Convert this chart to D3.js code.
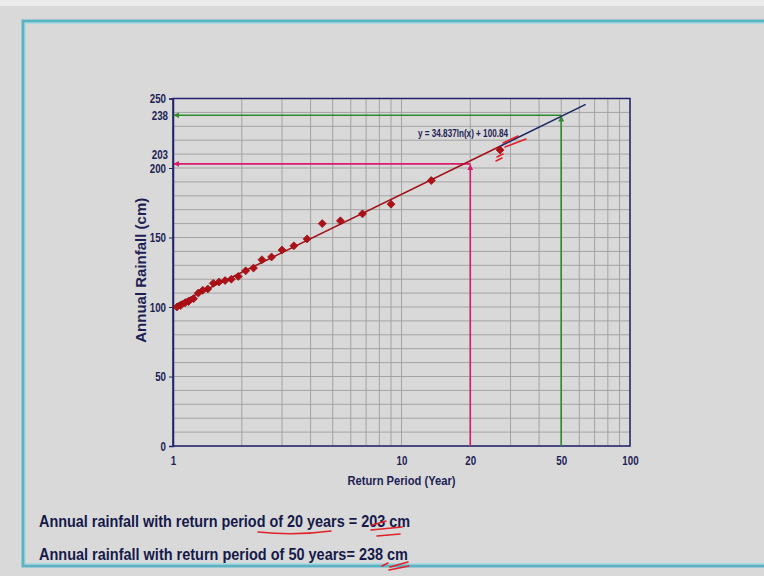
<!DOCTYPE html>
<html>
<head>
<meta charset="utf-8">
<title>Return period plot</title>
<script src="https://cdn.jsdelivr.net/npm/d3@7"></script>
<style>
  body { margin: 0; background: #d9d9d9; }
  text { font-family: "Liberation Sans", Arial, sans-serif; font-weight: bold; }
</style>
</head>
<body>
<svg width="764" height="576" id="mainsvg"></svg>
<script>
// return period T (years) of each ranked observation, and annual rainfall (cm)
const returnPeriod = [27, 13.5, 9, 6.75, 5.4, 4.5, 3.86, 3.38, 3, 2.7, 2.45, 2.25, 2.08,
                      1.93, 1.8, 1.69, 1.59, 1.5, 1.42, 1.35, 1.29, 1.23, 1.17, 1.13, 1.08, 1.04];
const rainfall = [213, 191, 174, 167, 162, 160, 149, 144, 141, 136, 134, 128, 126,
                  122, 120, 119, 118, 117, 113, 112, 110, 106, 104, 103, 101, 100];

// logarithmic trend: y = a ln(x) + b
const trendA = 34.837, trendB = 100.84;
const trendFit = [1.04, 27];       // red part over the data
const trendForecast = [27, 64];    // extension
const readings = [{T: 20, v: 203, color: '#d81b6a'}, {T: 50, v: 238, color: '#2e8b2e'}];

const yTicks = [0, 50, 100, 150, 200, 250];
const xTicks = [1, 10, 20, 50, 100];

const svg = d3.select('#mainsvg');
const W = 764, H = 576;

// squeeze Arial into an "Arial Narrow" look
function narrow(sel, f) {
  sel.each(function () {
    const w = this.getComputedTextLength();
    d3.select(this).attr('textLength', w * f).attr('lengthAdjust', 'spacingAndGlyphs');
  });
}

// slide background + border
svg.append('rect').attr('width', W).attr('height', H).attr('fill', '#d9d9d9');
svg.append('rect').attr('width', W).attr('height', 6).attr('fill', '#ececec');
svg.append('path').attr('d', `M${W},21 H23 V566 H${W}`)
  .attr('fill', 'none').attr('stroke', '#5ab4c6').attr('stroke-width', 3);
svg.append('path').attr('d', `M${W},23.5 H25.5 V563.5 H${W}`)
  .attr('fill', 'none').attr('stroke', '#a9dbe4').attr('stroke-width', 1);

const x = d3.scaleLog().domain([1, 100]).range([173, 630]);
const y = d3.scaleLinear().domain([0, 250]).range([446, 98.5]);

const g = svg.append('g');

// grid
const hLines = d3.range(0, 251, 10);
g.selectAll('.hg').data(hLines).join('line')
  .attr('x1', x(1)).attr('x2', x(100))
  .attr('y1', d => y(d)).attr('y2', d => y(d))
  .attr('stroke', '#a3a3a3').attr('stroke-width', 1);
const vLines = x.ticks(); // 1..9, 10..90, 100
g.selectAll('.vg').data(vLines).join('line')
  .attr('x1', d => x(d)).attr('x2', d => x(d))
  .attr('y1', y(0)).attr('y2', y(250))
  .attr('stroke', '#a3a3a3').attr('stroke-width', 1);

// frame
g.append('rect').attr('x', x(1)).attr('y', y(250))
  .attr('width', x(100) - x(1)).attr('height', y(0) - y(250))
  .attr('fill', 'none').attr('stroke', '#22236b').attr('stroke-width', 1.5);

// y axis
const yAxis = d3.axisLeft(y).tickValues(yTicks).tickSize(4).tickPadding(3);
const ya = g.append('g').attr('transform', `translate(${x(1)},0)`).call(yAxis);
ya.select('.domain').attr('stroke', '#22236b').attr('stroke-width', 1.5);
ya.selectAll('.tick line').attr('stroke', '#22236b');
ya.selectAll('.tick text').attr('font-size', 12.5).attr('fill', '#1d1f55')
  .attr('font-family', null).call(narrow, 0.78);

// extra labels for readings
readings.forEach((r, i) => {
  g.append('text').text(r.v)
    .attr('x', x(1) - 5).attr('y', y(r.v) + (i === 0 ? -5 : 4.5))
    .attr('text-anchor', 'end').attr('font-size', 12.5).attr('fill', '#1d1f55')
    .call(narrow, 0.78);
});

// x axis labels
const xa = g.append('g').attr('transform', `translate(0,${y(0)})`)
  .call(d3.axisBottom(x).tickValues(xTicks).tickFormat(d3.format('d')).tickSize(0).tickPadding(10));
xa.select('.domain').remove();
xa.selectAll('.tick text').attr('font-size', 12.5).attr('fill', '#1d1f55')
  .attr('font-family', null).call(narrow, 0.78);

g.append('text').text('Return Period (Year)')
  .attr('x', x(10)).attr('y', 485).attr('text-anchor', 'middle')
  .attr('font-size', 13).attr('fill', '#1d1f55')
  .attr('textLength', 108).attr('lengthAdjust', 'spacingAndGlyphs');
g.append('text').text('Annual Rainfall (cm)')
  .attr('transform', `translate(146,${(y(0) + y(250)) / 2 - 2}) rotate(-90)`)
  .attr('text-anchor', 'middle').attr('font-size', 15).attr('fill', '#1d1f55');

// arrow markers
const defs = svg.append('defs');
readings.forEach((r, i) => {
  defs.append('marker').attr('id', 'arr' + i)
    .attr('viewBox', '0 0 10 10').attr('refX', 9).attr('refY', 5)
    .attr('markerWidth', 6).attr('markerHeight', 6).attr('orient', 'auto')
    .attr('markerUnits', 'userSpaceOnUse')
    .append('path').attr('d', 'M0,0 L10,5 L0,10 Z').attr('fill', r.color);
});

// reading lines
readings.forEach((r, i) => {
  g.append('line')
    .attr('x1', x(r.T)).attr('x2', x(r.T)).attr('y1', y(0)).attr('y2', y(r.v) + 1)
    .attr('stroke', r.color).attr('stroke-width', 1.6).attr('marker-end', `url(#arr${i})`);
  g.append('line')
    .attr('x1', x(r.T)).attr('x2', x(1) + 1).attr('y1', y(r.v)).attr('y2', y(r.v))
    .attr('stroke', r.color).attr('stroke-width', 1.6).attr('marker-end', `url(#arr${i})`);
});

// trend lines
const trend = t => trendA * Math.log(t) + trendB;
const line = d3.line().x(d => x(d)).y(d => y(trend(d)));
g.append('path').attr('d', line(trendForecast))
  .attr('fill', 'none').attr('stroke', '#1c2563').attr('stroke-width', 1.5);
g.append('path').attr('d', line(trendFit))
  .attr('fill', 'none').attr('stroke', '#a3111a').attr('stroke-width', 1.5);

// data points
const pts = returnPeriod.map((t, i) => ({t, v: rainfall[i]}));
g.selectAll('.pt').data(pts).join('path')
  .attr('d', d3.symbol().type(d3.symbolSquare).size(32))
  .attr('transform', d => `translate(${x(d.t)},${y(d.v)}) rotate(45)`)
  .attr('fill', '#b00f16').attr('stroke', '#8a0b10').attr('stroke-width', 0.6);

g.append('text').text('y = 34.837ln(x) + 100.84')
  .attr('x', 418).attr('y', 137).attr('font-size', 10).attr('fill', '#1d1f55')
  .attr('textLength', 90).attr('lengthAdjust', 'spacingAndGlyphs');

// summary lines
const notes = [
  'Annual rainfall with return period of 20 years = 203 cm',
  'Annual rainfall with return period of 50 years= 238 cm'
];
const noteWidth = [371, 369];
svg.selectAll('.note').data(notes).join('text')
  .attr('x', 39).attr('y', (d, i) => 527 + i * 33)
  .attr('font-size', 16.5).attr('fill', '#161a4a').text(d => d)
  .attr('textLength', (d, i) => noteWidth[i]).attr('lengthAdjust', 'spacingAndGlyphs');

// red pen marks on the slide
const ink = svg.append('g').attr('fill', 'none').attr('stroke', '#e0222a')
  .attr('stroke-width', 1.6).attr('stroke-linecap', 'round');
ink.append('path').attr('d', 'M503,143 L518,136 M505,147 L526,139');
ink.append('path').attr('d', 'M497,157 L503,154 M496,161 L502,158');
ink.append('path').attr('d', 'M258,532 Q295,536 331,531');
ink.append('path').attr('d', 'M372,525 L386,521 M371,530 L402,527 M377,536 L400,534');
ink.append('path').attr('d', 'M382,566 L388,563 M390,567 L408,562 M389,570 L409,566');
</script>
</body>
</html>
